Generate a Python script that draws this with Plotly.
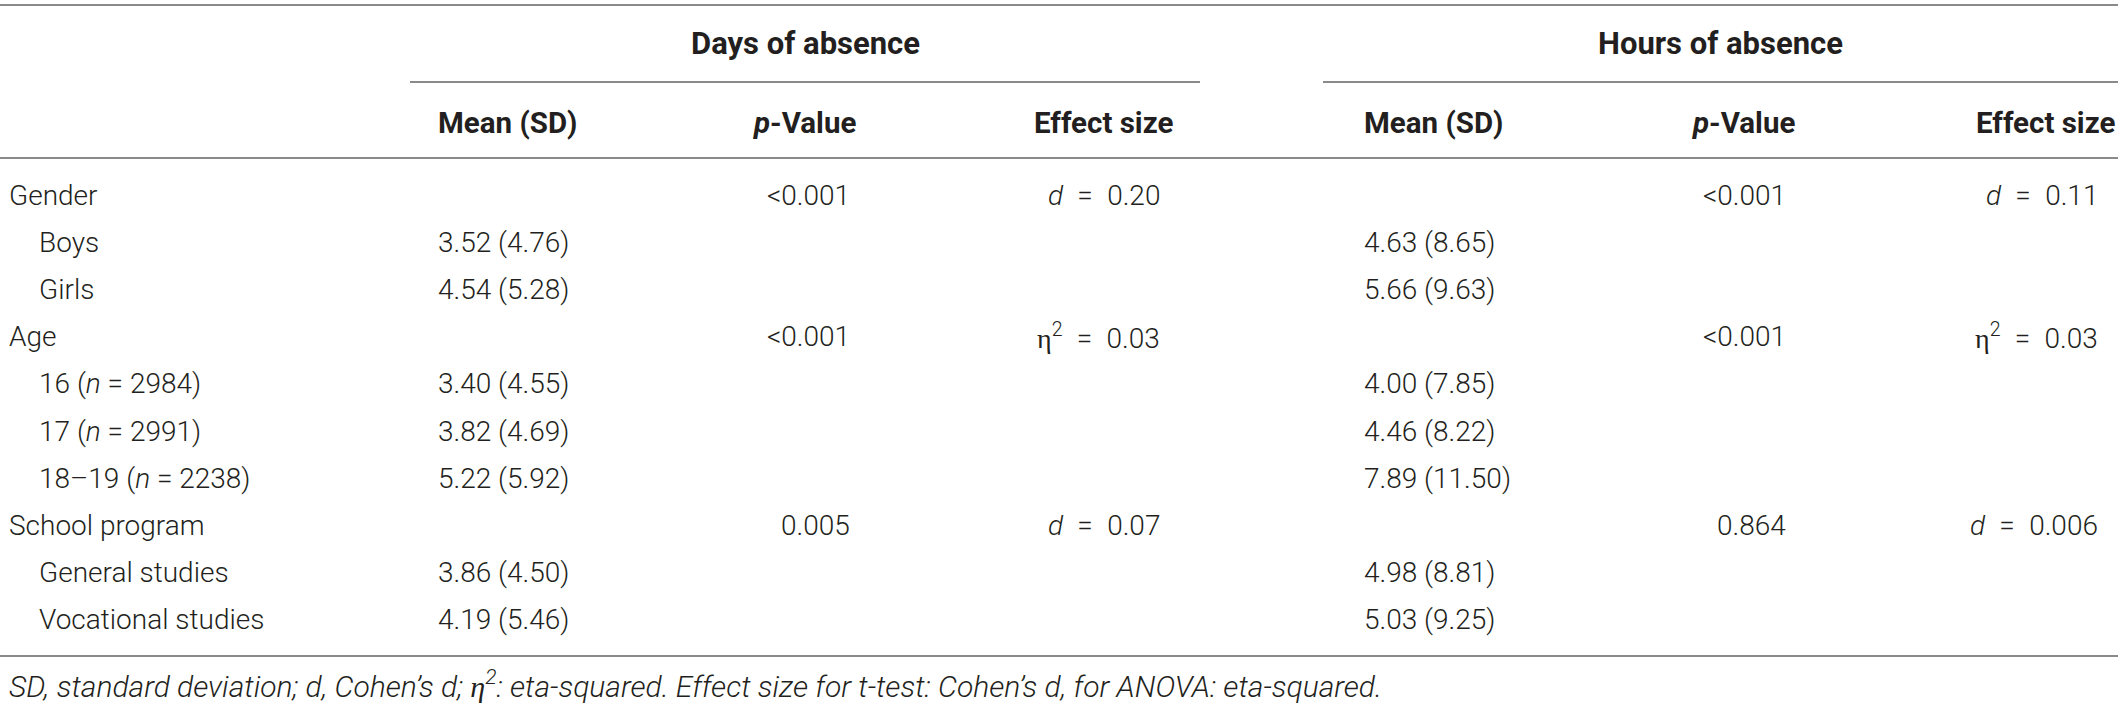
import plotly.graph_objects as go

# ---------------- data ----------------
ETA = '<span style="font-family:Liberation Serif">η</span>'
EQ = "\u2002=\u2002"          # spacing round "=" in effect sizes
row_labels = ["Gender", "Boys", "Girls", "Age",
              "16 (<i>n</i> = 2984)", "17 (<i>n</i> = 2991)", "18–19 (<i>n</i> = 2238)",
              "School program", "General studies", "Vocational studies"]
days_mean = ["", "3.52 (4.76)", "4.54 (5.28)", "", "3.40 (4.55)", "3.82 (4.69)",
             "5.22 (5.92)", "", "3.86 (4.50)", "4.19 (5.46)"]
days_p = ["&lt;0.001", "", "", "&lt;0.001", "", "", "", "0.005", "", ""]
days_effect = ["<i>d</i>" + EQ + "0.20", "", "", ETA + "<sup>2</sup>" + EQ + "0.03", "", "", "",
               "<i>d</i>" + EQ + "0.07", "", ""]
hours_mean = ["", "4.63 (8.65)", "5.66 (9.63)", "", "4.00 (7.85)", "4.46 (8.22)",
              "7.89 (11.50)", "", "4.98 (8.81)", "5.03 (9.25)"]
hours_p = ["&lt;0.001", "", "", "&lt;0.001", "", "", "", "0.864", "", ""]
hours_effect = ["<i>d</i>" + EQ + "0.11", "", "", ETA + "<sup>2</sup>" + EQ + "0.03", "", "", "",
                "<i>d</i>" + EQ + "0.006", "", ""]
group_headers = ["Days of absence", "Hours of absence"]
column_headers = ["Mean (SD)", "<i>p</i>-Value", "Effect size"]
footnote = ("<i>SD, standard deviation; d, Cohen’s d; " + ETA + "<sup>2</sup>: eta-squared. "
            "Effect size for t-test: Cohen’s d, for ANOVA: eta-squared.</i>")

# ---------------- layout constants ----------------
W, H = 2118, 710
FONT = "Roboto"
TXT = "#231f20"
RULE = "#8a8a8a"
FS = 28

y_top_rule = 5
y_group = 43
y_group_rule = 82
y_colhead = 123
y_head_rule = 158
row0, row_step = 195, 47.2
y_bottom_rule = 656
y_foot = 684

x_label, x_sub = 7, 37
groups = [
    dict(mean=436, p=852, ph=858, e=1162, eh=1175, r0=410, r1=1200,
         data=(days_mean, days_p, days_effect)),
    dict(mean=1362, p=1788, ph=1797, e=2100, eh=2117, r0=1323, r1=2118,
         data=(hours_mean, hours_p, hours_effect)),
]

fig = go.Figure()
fig.add_trace(go.Scatter(x=[0, W], y=[0, H], mode="markers",
                         marker=dict(opacity=0), hoverinfo="skip", showlegend=False))

ann = []
def add(text, x, y, anchor, weight=300, size=FS):
    ann.append(dict(text=text, x=x, y=y, xref="x", yref="y", showarrow=False,
                    xanchor=anchor, yanchor="middle",
                    font=dict(family=FONT, size=size, color=TXT, weight=weight)))

shapes = []
def rule(x0, x1, y):
    shapes.append(dict(type="line", xref="x", yref="y", x0=x0, x1=x1, y0=y, y1=y,
                       line=dict(color=RULE, width=2)))

rule(0, W, y_top_rule)
rule(0, W, y_head_rule)
rule(0, W, y_bottom_rule)

for gi, g in enumerate(groups):
    add(group_headers[gi], (g["r0"] + g["r1"]) / 2, y_group, "center", weight=700, size=31)
    rule(g["r0"], g["r1"], y_group_rule)
    add(column_headers[0], g["mean"], y_colhead, "left", weight=700, size=29.5)
    add(column_headers[1], g["ph"], y_colhead, "right", weight=700, size=29.5)
    add(column_headers[2], g["eh"], y_colhead, "right", weight=700, size=29.5)
    means, ps, effs = g["data"]
    for i in range(len(row_labels)):
        y = row0 + i * row_step
        if means[i]:
            add(means[i], g["mean"], y, "left")
        if ps[i]:
            add(ps[i], g["p"], y, "right")
        if effs[i]:
            add(effs[i], g["e"], y, "right")

for i, lab in enumerate(row_labels):
    y = row0 + i * row_step
    is_sub = days_p[i] == ""
    add(lab, x_sub if is_sub else x_label, y, "left")

add(footnote, x_label, y_foot, "left", size=30)

fig.update_layout(
    width=W, height=H,
    margin=dict(l=0, r=0, t=0, b=0),
    paper_bgcolor="white", plot_bgcolor="white",
    xaxis=dict(range=[0, W], visible=False, fixedrange=True),
    yaxis=dict(range=[H, 0], visible=False, fixedrange=True),
    annotations=ann, shapes=shapes,
    showlegend=False,
)

fig.write_html("out.html", config=dict(displayModeBar=False),
               post_script="document.body.style.margin='0';document.body.style.overflow='hidden';")
